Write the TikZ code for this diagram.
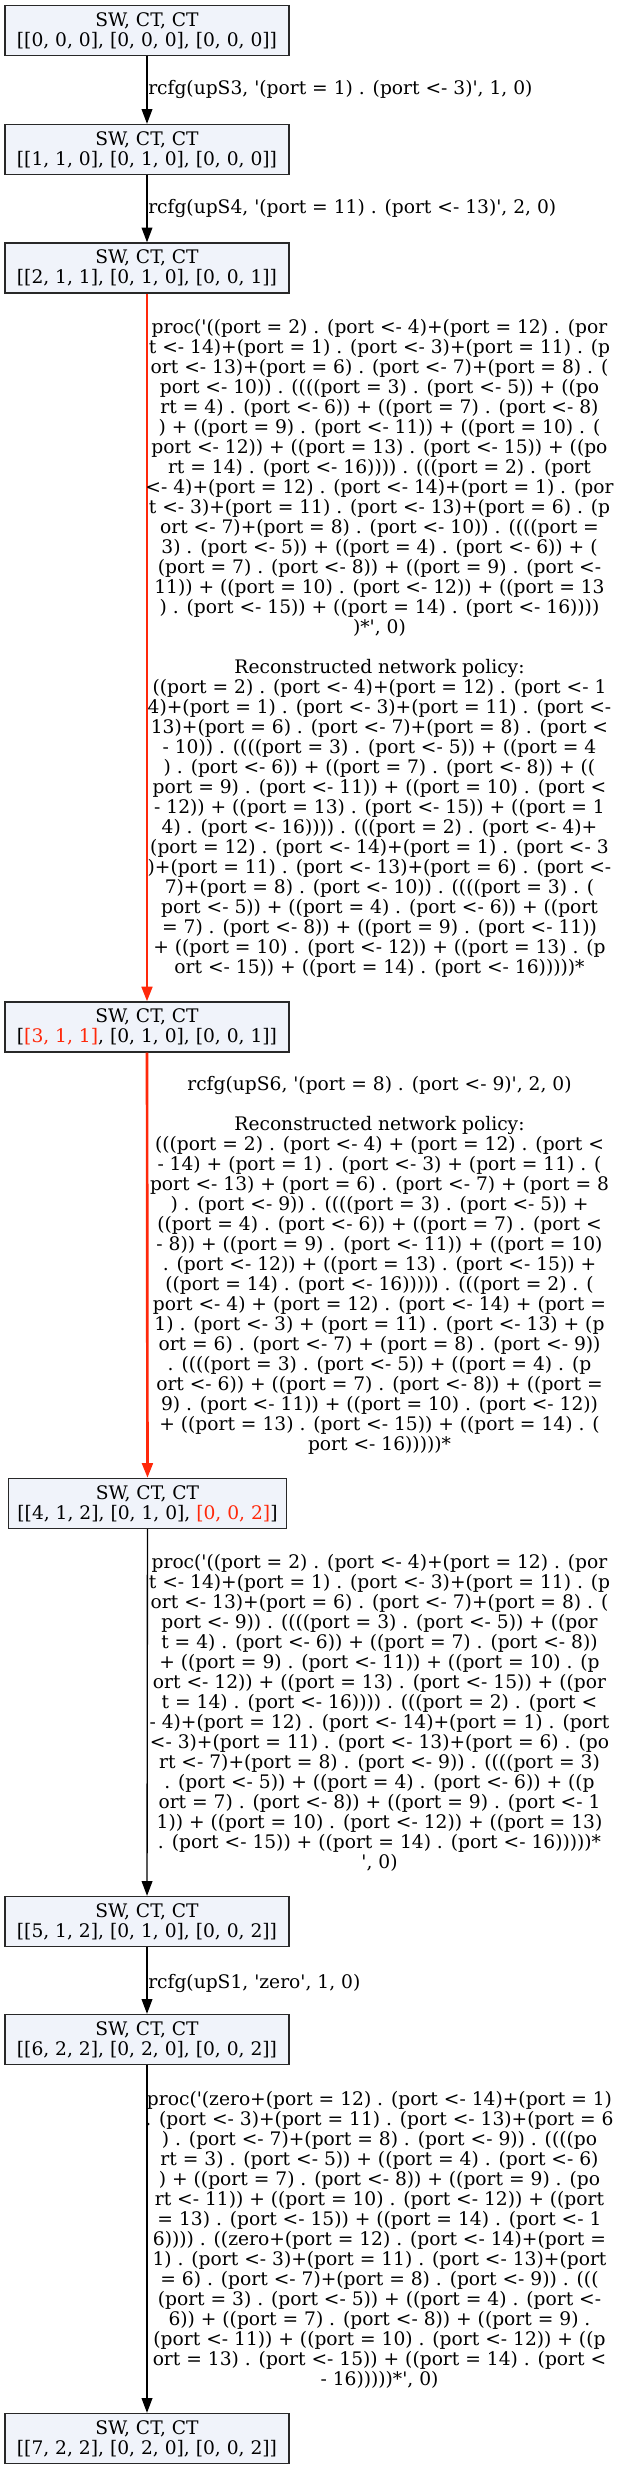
\documentclass[tikz,border=0pt]{standalone}
\usepackage{fontspec}
\setmainfont{DejaVu Serif}[Ligatures=TeXOff]
\usetikzlibrary{arrows.meta}
\definecolor{nodefill}{RGB}{240,243,250}
\definecolor{nodeedge}{RGB}{40,40,40}
\definecolor{hired}{RGB}{255,40,10}
\newcommand\gvfont{\fontsize{14pt}{15pt}\selectfont}
\begin{document}
\begin{tikzpicture}[x=0.75pt,y=-0.75pt,
  stbox/.style={draw=nodeedge, fill=nodefill, line width=1pt, minimum width=213pt,
    minimum height=37.5pt, inner sep=0pt, align=center, font=\gvfont},
  lab/.style={inner sep=0pt, align=center, font=\gvfont, anchor=north},
  slab/.style={inner sep=0pt, anchor=west, font=\gvfont},
  conn/.style={line width=1pt, draw=black, -{Triangle[length=11pt,width=8pt]}},
  hot/.style={line width=2pt, draw=hired, -{Triangle[length=11pt,width=8pt]}}]
\fill[white] (0,0) rectangle (623,2469);
\useasboundingbox (0,0) rectangle (623,2469);

\node[stbox] (n1) at (147,30.5) {SW, CT, CT\\\relax[[0, 0, 0], [0, 0, 0], [0, 0, 0]]};
\node[stbox] (n2) at (147,149.5) {SW, CT, CT\\\relax[[1, 1, 0], [0, 1, 0], [0, 0, 0]]};
\node[stbox] (n3) at (147,268) {SW, CT, CT\\\relax[[2, 1, 1], [0, 1, 0], [0, 0, 1]]};
\node[stbox] (n4) at (147,1027) {SW, CT, CT\\\relax[\textcolor{hired}{[3, 1, 1]}, [0, 1, 0], [0, 0, 1]]};
\node[stbox, minimum width=208.5pt] (n5) at (147.5,1503.5) {SW, CT, CT\\\relax[[4, 1, 2], [0, 1, 0], \textcolor{hired}{[0, 0, 2]}]};
\node[stbox] (n6) at (147,1921.5) {SW, CT, CT\\\relax[[5, 1, 2], [0, 1, 0], [0, 0, 2]]};
\node[stbox] (n7) at (147,2039.5) {SW, CT, CT\\\relax[[6, 2, 2], [0, 2, 0], [0, 0, 2]]};
\node[stbox] (n8) at (147,2438.5) {SW, CT, CT\\\relax[[7, 2, 2], [0, 2, 0], [0, 0, 2]]};

\draw[conn] (n1) -- (n2);
\draw[conn] (n2) -- (n3);
\draw[hot] (n3) -- (n4);
\draw[hot] (n4) -- (n5);
\draw[conn] (n5) -- (n6);
\draw[conn] (n6) -- (n7);
\draw[conn] (n7) -- (n8);

\node[slab] (l1) at (148,89) {rcfg(upS3, '(port = 1) . (port <- 3)', 1, 0)};
\node[slab] (l2) at (148,208) {rcfg(upS4, '(port = 11) . (port <- 13)', 2, 0)};

\node[lab] (l3) at (379.5,318.6) {proc('((port = 2) . (port <- 4)+(port = 12) . (por\\
t <- 14)+(port = 1) . (port <- 3)+(port = 11) . (p\\
ort <- 13)+(port = 6) . (port <- 7)+(port = 8) . (\\
port <- 10)) . ((((port = 3) . (port <- 5)) + ((po\\
rt = 4) . (port <- 6)) + ((port = 7) . (port <- 8)\\
) + ((port = 9) . (port <- 11)) + ((port = 10) . (\\
port <- 12)) + ((port = 13) . (port <- 15)) + ((po\\
rt = 14) . (port <- 16)))) . (((port = 2) . (port\\
<- 4)+(port = 12) . (port <- 14)+(port = 1) . (por\\
t <- 3)+(port = 11) . (port <- 13)+(port = 6) . (p\\
ort <- 7)+(port = 8) . (port <- 10)) . ((((port =\\
3) . (port <- 5)) + ((port = 4) . (port <- 6)) + (\\
(port = 7) . (port <- 8)) + ((port = 9) . (port <-\\
11)) + ((port = 10) . (port <- 12)) + ((port = 13\\
) . (port <- 15)) + ((port = 14) . (port <- 16))))\\
)*', 0)\\[15pt]
Reconstructed network policy:\\
((port = 2) . (port <- 4)+(port = 12) . (port <- 1\\
4)+(port = 1) . (port <- 3)+(port = 11) . (port <-\\
13)+(port = 6) . (port <- 7)+(port = 8) . (port <\\
- 10)) . ((((port = 3) . (port <- 5)) + ((port = 4\\
) . (port <- 6)) + ((port = 7) . (port <- 8)) + ((\\
port = 9) . (port <- 11)) + ((port = 10) . (port <\\
- 12)) + ((port = 13) . (port <- 15)) + ((port = 1\\
4) . (port <- 16)))) . (((port = 2) . (port <- 4)+\\
(port = 12) . (port <- 14)+(port = 1) . (port <- 3\\
)+(port = 11) . (port <- 13)+(port = 6) . (port <-\\
7)+(port = 8) . (port <- 10)) . ((((port = 3) . (\\
port <- 5)) + ((port = 4) . (port <- 6)) + ((port\\
= 7) . (port <- 8)) + ((port = 9) . (port <- 11))\\
+ ((port = 10) . (port <- 12)) + ((port = 13) . (p\\
ort <- 15)) + ((port = 14) . (port <- 16)))))*};

\node[lab] (l4) at (379.5,1075.6) {rcfg(upS6, '(port = 8) . (port <- 9)', 2, 0)\\[15pt]
Reconstructed network policy:\\
(((port = 2) . (port <- 4) + (port = 12) . (port <\\
- 14) + (port = 1) . (port <- 3) + (port = 11) . (\\
port <- 13) + (port = 6) . (port <- 7) + (port = 8\\
) . (port <- 9)) . ((((port = 3) . (port <- 5)) +\\
((port = 4) . (port <- 6)) + ((port = 7) . (port <\\
- 8)) + ((port = 9) . (port <- 11)) + ((port = 10)\\
. (port <- 12)) + ((port = 13) . (port <- 15)) +\\
((port = 14) . (port <- 16))))) . (((port = 2) . (\\
port <- 4) + (port = 12) . (port <- 14) + (port =\\
1) . (port <- 3) + (port = 11) . (port <- 13) + (p\\
ort = 6) . (port <- 7) + (port = 8) . (port <- 9))\\
. ((((port = 3) . (port <- 5)) + ((port = 4) . (p\\
ort <- 6)) + ((port = 7) . (port <- 8)) + ((port =\\
9) . (port <- 11)) + ((port = 10) . (port <- 12))\\
+ ((port = 13) . (port <- 15)) + ((port = 14) . (\\
port <- 16)))))*};

\node[lab] (l5) at (379.5,1553.6) {proc('((port = 2) . (port <- 4)+(port = 12) . (por\\
t <- 14)+(port = 1) . (port <- 3)+(port = 11) . (p\\
ort <- 13)+(port = 6) . (port <- 7)+(port = 8) . (\\
port <- 9)) . ((((port = 3) . (port <- 5)) + ((por\\
t = 4) . (port <- 6)) + ((port = 7) . (port <- 8))\\
+ ((port = 9) . (port <- 11)) + ((port = 10) . (p\\
ort <- 12)) + ((port = 13) . (port <- 15)) + ((por\\
t = 14) . (port <- 16)))) . (((port = 2) . (port <\\
- 4)+(port = 12) . (port <- 14)+(port = 1) . (port\\
<- 3)+(port = 11) . (port <- 13)+(port = 6) . (po\\
rt <- 7)+(port = 8) . (port <- 9)) . ((((port = 3)\\
. (port <- 5)) + ((port = 4) . (port <- 6)) + ((p\\
ort = 7) . (port <- 8)) + ((port = 9) . (port <- 1\\
1)) + ((port = 10) . (port <- 12)) + ((port = 13)\\
. (port <- 15)) + ((port = 14) . (port <- 16)))))*\\
', 0)};

\node[slab] (l6) at (148,1983) {rcfg(upS1, 'zero', 1, 0)};

\node[lab] (l7) at (379.5,2090.6) {proc('(zero+(port = 12) . (port <- 14)+(port = 1)\\
. (port <- 3)+(port = 11) . (port <- 13)+(port = 6\\
) . (port <- 7)+(port = 8) . (port <- 9)) . ((((po\\
rt = 3) . (port <- 5)) + ((port = 4) . (port <- 6)\\
) + ((port = 7) . (port <- 8)) + ((port = 9) . (po\\
rt <- 11)) + ((port = 10) . (port <- 12)) + ((port\\
= 13) . (port <- 15)) + ((port = 14) . (port <- 1\\
6)))) . ((zero+(port = 12) . (port <- 14)+(port =\\
1) . (port <- 3)+(port = 11) . (port <- 13)+(port\\
= 6) . (port <- 7)+(port = 8) . (port <- 9)) . (((\\
(port = 3) . (port <- 5)) + ((port = 4) . (port <-\\
6)) + ((port = 7) . (port <- 8)) + ((port = 9) .\\
(port <- 11)) + ((port = 10) . (port <- 12)) + ((p\\
ort = 13) . (port <- 15)) + ((port = 14) . (port <\\
- 16)))))*', 0)};
\end{tikzpicture}
\end{document}
